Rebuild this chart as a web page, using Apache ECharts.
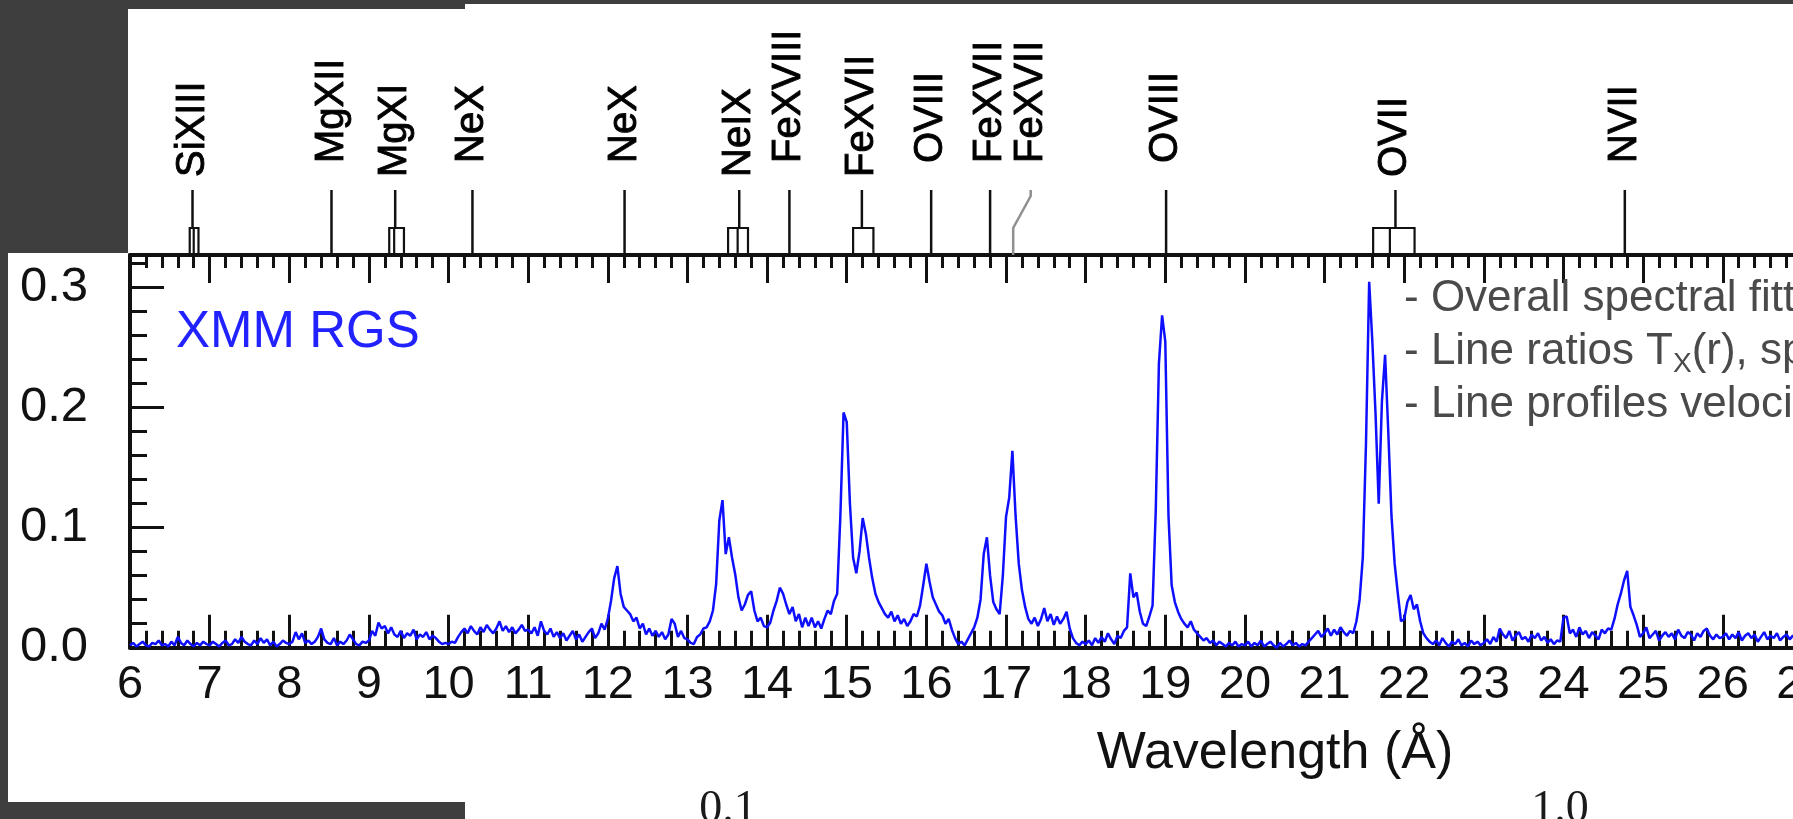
<!DOCTYPE html>
<html>
<head>
<meta charset="utf-8">
<title>XMM RGS spectrum</title>
<script src="https://cdn.jsdelivr.net/npm/echarts@6/dist/echarts.min.js"></script>
<style>
  html, body { margin: 0; padding: 0; background: #3e3e3e; }
  #chart { width: 1793px; height: 819px; }
</style>
</head>
<body>
<div id="chart"></div>
<script>
// ---- Spectrum: wavelength grid (Angstrom) and flux per bin (units of 1e-3) ----
const WAVE_START = 6.0;
const WAVE_STEP = 0.04;
const FLUX_MILLI = [
  // 6 A
  2,4,1,3,5,2,1,4,3,6,2,3,1,5,2,9,4,2,6,3,1,4,2,5,3,
  // 7 A
  2,5,3,1,4,6,2,3,7,4,9,5,3,2,6,3,8,4,7,2,5,1,3,6,4,
  // 8 A
  3,5,13,7,12,4,6,3,5,9,16,7,4,3,8,2,5,3,6,11,7,3,2,5,4,
  // 9 A
  6,14,10,21,16,18,12,17,11,9,14,8,12,10,15,7,11,9,13,7,10,8,5,3,4,
  // 10 A
  3,5,4,9,13,16,12,18,14,11,17,13,19,15,12,16,22,14,18,13,17,12,15,19,14,
  // 11 A
  15,12,17,10,22,14,11,16,9,13,8,12,6,10,14,7,11,5,9,13,16,8,12,20,15,
  // 12 A
  24,39,58,68,45,34,31,28,22,25,16,20,11,16,10,14,9,13,7,11,24,20,9,14,8,
  // 13 A
  7,4,3,9,11,16,17,22,31,53,106,123,78,92,75,61,42,31,36,44,47,31,22,25,18,
  // 14 A
  17,21,31,39,50,45,36,28,34,22,28,17,25,18,25,17,22,16,24,31,28,39,45,110,196,
  // 15 A
  188,120,75,62,80,108,95,75,58,45,38,33,28,25,30,22,27,20,24,18,22,28,26,35,52,
  // 16 A
  70,55,42,36,30,27,20,24,15,8,3,5,2,7,12,17,25,40,78,92,60,38,32,28,60,
  // 17 A
  109,125,164,110,70,48,34,24,20,25,18,24,33,22,28,19,26,20,24,30,16,8,4,2,5,
  // 18 A
  3,6,2,8,4,9,5,12,7,3,10,8,14,17,62,42,46,30,20,18,26,35,114,237,277,
  // 19 A
  255,110,52,38,30,24,20,17,22,15,12,9,6,8,4,6,2,5,3,1,4,2,5,1,3,
  // 20 A
  2,5,1,4,2,6,1,3,5,2,0,4,1,3,6,2,4,1,3,2,5,8,11,14,9,
  // 21 A
  12,16,10,15,11,17,13,10,14,12,22,40,75,170,305,255,195,120,205,244,180,110,70,45,22,
  // 22 A
  24,38,44,32,36,22,12,8,5,3,6,2,8,4,1,5,3,7,2,4,1,6,3,5,2,
  // 23 A
  4,7,3,9,5,16,11,8,14,6,10,13,7,9,5,11,8,12,6,9,4,7,3,6,5,
  // 24 A
  25,26,12,15,9,17,11,14,8,13,10,7,15,12,16,15,24,36,45,56,64,34,27,19,9,
  // 25 A
  12,17,8,11,14,6,10,13,9,12,7,15,10,8,13,11,6,12,9,14,16,10,7,11,8,
  // 26 A
  9,12,7,11,8,13,6,10,12,8,11,5,9,13,7,10,8,12,6,9,11,7,10,8,9
];

// ---- Axes ----
const X_MIN = 6, X_MAX = 27, X_STEP = 1;
const Y_MIN = 0, Y_MAX = 0.32725, Y_STEP = 0.1;

// ---- Line identifications ----
const LINE_IONS  = ['SiXIII', 'MgXII', 'MgXI', 'NeX', 'NeX', 'NeIX', 'FeXVIII', 'FeXVII', 'OVIII', 'FeXVII', 'FeXVII', 'OVIII', 'OVII', 'NVII'];
const LINE_WAVES = [6.785, 8.53, 9.33, 10.30, 12.21, 13.65, 14.28, 15.19, 16.06, 16.80, 17.31, 19.01, 21.89, 24.77];
// extent of a multiplet (lower / upper wavelength) and its inner component split
const BLEND_LO    = [6.75, null, 9.255, null, null, 13.51, null, 15.08, null, null, null, null, 21.61, null];
const BLEND_HI    = [6.86, null, 9.44,  null, null, 13.76, null, 15.335, null, null, null, null, 22.13, null];
const BLEND_SPLIT = [6.80, null, 9.317, null, null, 13.63, null, null, null, null, null, null, 21.82, null];
// blended line whose foot sits at a shifted wavelength (drawn in grey)
const LINE_FOOT   = [null, null, null, null, null, null, null, null, null, null, 17.09, null, null, null];

const FONT = '"Liberation Sans", Arial, Helvetica, sans-serif';
const INK = '#111111';

const spectrum = FLUX_MILLI.map((f, i) => [+(WAVE_START + i * WAVE_STEP).toFixed(2), f / 1000]);

function renderLineId(params, api) {
  const i = params.dataIndex;
  const base = api.coord([LINE_WAVES[i], Y_MAX]);
  const x = base[0], y0 = base[1];
  const hasBlend = BLEND_LO[i] != null;
  const stemTop = y0 - 65;
  const boxTop = y0 - 27;
  const children = [];

  if (LINE_FOOT[i] != null) {
    const xf = api.coord([LINE_FOOT[i], Y_MAX])[0];
    children.push({
      type: 'polyline',
      shape: { points: [[x, stemTop], [x, stemTop + 6], [xf, boxTop], [xf, y0]] },
      style: { stroke: '#8f8f8f', lineWidth: 2.5, fill: 'none' }
    });
  } else {
    children.push({
      type: 'line',
      shape: { x1: x, y1: stemTop, x2: x, y2: hasBlend ? boxTop : y0 },
      style: { stroke: INK, lineWidth: 2.5 }
    });
  }

  if (hasBlend) {
    const xl = api.coord([BLEND_LO[i], Y_MAX])[0];
    const xh = api.coord([BLEND_HI[i], Y_MAX])[0];
    children.push({
      type: 'rect',
      shape: { x: xl, y: boxTop, width: xh - xl, height: y0 - boxTop },
      style: { stroke: INK, fill: 'none', lineWidth: 2.2 }
    });
    if (BLEND_SPLIT[i] != null) {
      const xs = api.coord([BLEND_SPLIT[i], Y_MAX])[0];
      children.push({
        type: 'line',
        shape: { x1: xs, y1: boxTop, x2: xs, y2: y0 },
        style: { stroke: INK, lineWidth: 2.2 }
      });
    }
  }

  children.push({
    type: 'text',
    x: x,
    y: y0 - (hasBlend ? 78 : 92),
    rotation: Math.PI / 2,
    style: {
      text: LINE_IONS[i],
      font: '40px ' + FONT,
      fill: '#000',
      stroke: '#000',
      lineWidth: 0.9,
      align: 'left',
      verticalAlign: 'middle'
    }
  });

  return { type: 'group', children: children };
}

const chart = echarts.init(document.getElementById('chart'), null, { renderer: 'canvas' });

const tickStyle = { color: INK, width: 3 };

chart.setOption({
  animation: false,
  backgroundColor: '#3e3e3e',
  textStyle: { fontFamily: FONT },
  grid: {
    left: 130,
    top: 255,
    width: 1672.4,
    bottom: 171.3,
    containLabel: false,
    outerBoundsMode: 'none'
  },
  xAxis: [
    {
      type: 'value',
      min: X_MIN, max: X_MAX, interval: X_STEP,
      position: 'bottom',
      axisLine: { show: true, onZero: false, lineStyle: { color: INK, width: 4 } },
      axisTick: { show: true, inside: true, length: 33, lineStyle: tickStyle },
      minorTick: { show: true, splitNumber: 5, length: 17, lineStyle: tickStyle },
      splitLine: { show: false },
      axisLabel: { show: true, color: INK, fontSize: 47, fontFamily: FONT, margin: 14 }
    },
    {
      type: 'value',
      min: X_MIN, max: X_MAX, interval: X_STEP,
      position: 'top',
      axisLine: { show: true, onZero: false, lineStyle: { color: INK, width: 4 } },
      axisTick: { show: true, inside: true, length: 28, lineStyle: tickStyle },
      minorTick: { show: true, splitNumber: 5, length: 13, lineStyle: tickStyle },
      splitLine: { show: false },
      axisLabel: { show: false }
    }
  ],
  yAxis: {
    type: 'value',
    min: Y_MIN, max: Y_MAX, interval: Y_STEP,
    axisLine: { show: true, lineStyle: { color: INK, width: 4 } },
    axisTick: { show: true, inside: true, length: 34, lineStyle: tickStyle },
    minorTick: { show: true, splitNumber: 5, length: 17, lineStyle: tickStyle },
    splitLine: { show: false },
    axisLabel: {
      show: true, color: INK, fontSize: 49, fontFamily: FONT, margin: 42,
      showMaxLabel: false,
      formatter: v => v.toFixed(1)
    }
  },
  series: [
    {
      name: 'XMM RGS',
      type: 'line',
      xAxisIndex: 0, yAxisIndex: 0,
      data: spectrum,
      showSymbol: false,
      symbol: 'none',
      lineStyle: { color: '#0f0fff', width: 2.5 },
      z: 3,
      silent: true
    },
    {
      name: 'line ids',
      type: 'custom',
      xAxisIndex: 0, yAxisIndex: 0,
      data: LINE_WAVES.map(w => [w, Y_MAX]),
      encode: { x: 0, y: 1 },
      renderItem: renderLineId,
      clip: false,
      silent: true,
      z: 4
    }
  ],
  graphic: [
    // slide panels
    { type: 'rect', z: -10, silent: true, shape: { x: 465, y: 4, width: 1328, height: 815 }, style: { fill: '#ffffff' } },
    { type: 'rect', z: -10, silent: true, shape: { x: 128, y: 9, width: 1665, height: 248 }, style: { fill: '#ffffff' } },
    { type: 'rect', z: -10, silent: true, shape: { x: 8, y: 253, width: 1785, height: 549 }, style: { fill: '#ffffff' } },
    // remnant of an upper tick label, mostly hidden under the dark frame
    { type: 'text', z: -6, silent: true, x: 88, y: 239, style: { text: '0.3', font: '49px ' + FONT, fill: INK, align: 'right', verticalAlign: 'middle' } },
    { type: 'rect', z: -5, silent: true, shape: { x: 0, y: 0, width: 128, height: 253 }, style: { fill: '#3e3e3e' } },
    // instrument tag
    { type: 'text', z: 5, silent: true, x: 176, y: 333, style: { text: 'XMM RGS', font: '51px ' + FONT, fill: '#2222ff', align: 'left', verticalAlign: 'middle' } },
    // axis title
    { type: 'text', z: 5, silent: true, x: 1275, y: 754, style: { text: 'Wavelength (Å)', font: '52px ' + FONT, fill: INK, align: 'center', verticalAlign: 'middle' } },
    // bullet notes
    { type: 'text', z: 5, silent: true, x: 1404, y: 299, style: { text: '- Overall spectral fitting', font: '44px ' + FONT, fill: '#4a4a4a', align: 'left', verticalAlign: 'middle' } },
    {
      type: 'text', z: 5, silent: true, x: 1404, y: 352,
      style: {
        text: '{n|- Line ratios T}{s|X}{n|(r), spatial distribution}',
        fill: '#4a4a4a', align: 'left', verticalAlign: 'middle',
        rich: {
          n: { fontSize: 44, fontFamily: FONT, lineHeight: 52, fill: '#4a4a4a' },
          s: { fontSize: 28, fontFamily: FONT, lineHeight: 36, verticalAlign: 'bottom', fill: '#4a4a4a' }
        }
      }
    },
    { type: 'text', z: 5, silent: true, x: 1404, y: 405, style: { text: '- Line profiles velocities', font: '44px ' + FONT, fill: '#4a4a4a', align: 'left', verticalAlign: 'middle' } },
    // scale values of the slide's next figure, cut by the lower edge
    { type: 'text', z: 5, silent: true, x: 728, y: 810, style: { text: '0.1', font: '46px "Liberation Serif", "Times New Roman", serif', fill: '#1a1a1a', align: 'center', verticalAlign: 'middle' } },
    { type: 'text', z: 5, silent: true, x: 1560, y: 810, style: { text: '1.0', font: '46px "Liberation Serif", "Times New Roman", serif', fill: '#1a1a1a', align: 'center', verticalAlign: 'middle' } }
  ]
});
</script>
</body>
</html>
